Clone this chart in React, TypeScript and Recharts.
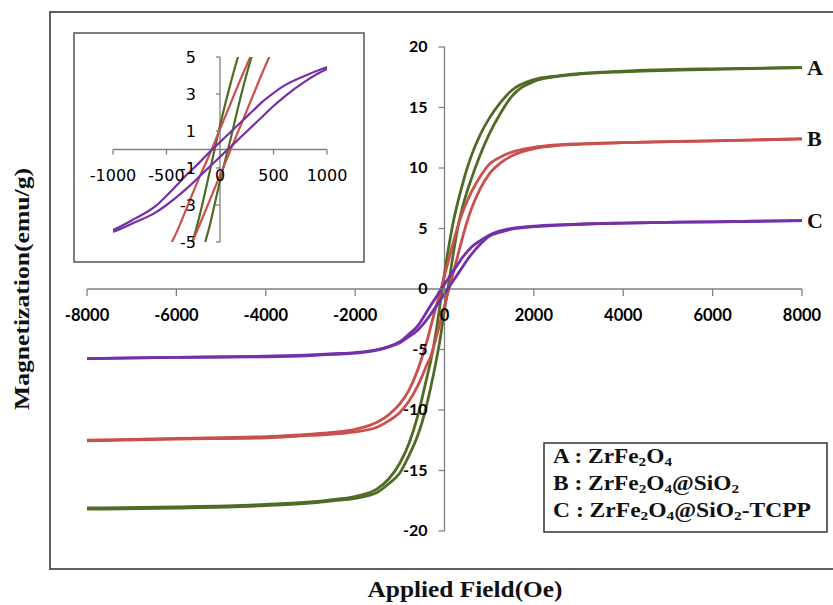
import { LineChart, Line, XAxis, YAxis, ReferenceLine, ReferenceDot } from "recharts";

// applied field (Oe), same grid for every branch
const fields = [
  -8000, -6000, -4000, -3000, -2500, -2000, -1500, -1250, -1000, -800, -600, -500, -400, -300, -200, -100,
  0, 100, 200, 300, 400, 500, 600, 800, 1000, 1250, 1500, 2000, 2500, 3000, 4000, 6000, 8000,
];

// A : ZrFe2O4
const aUpper = [
  -18.1, -18.0, -17.8, -17.6, -17.4, -17.15, -16.5, -15.7, -14.4, -12.8, -10.5, -9.0, -7.4, -5.8, -3.8, -1.3,
  1.3, 3.6, 5.6, 7.2, 8.6, 9.9, 11.0, 12.75, 14.1, 15.4, 16.4, 17.3, 17.6, 17.8, 18.0, 18.2, 18.3,
];
const aLower = [
  -18.2, -18.1, -17.9, -17.7, -17.5, -17.3, -16.8, -16.1, -15.2, -13.8, -12.1, -11.0, -9.6, -8.0, -6.2, -4.2,
  -1.7, 0.6, 3.0, 5.1, 6.7, 8.0, 9.1, 11.1, 12.8, 14.5, 15.9, 17.15, 17.55, 17.75, 17.95, 18.15, 18.3,
];

// B : ZrFe2O4@SiO2
const bUpper = [
  -12.5, -12.35, -12.2, -12.0, -11.85, -11.6, -11.0, -10.4, -9.5, -8.4, -6.7, -5.6, -4.4, -3.0, -1.6, -0.3,
  1.1, 2.5, 3.9, 5.2, 6.3, 7.2, 8.0, 9.3, 10.3, 10.9, 11.3, 11.7, 11.9, 12.0, 12.1, 12.25, 12.4,
];
const bLower = [
  -12.55, -12.4, -12.3, -12.1, -12.0, -11.8, -11.4, -10.9, -10.2, -9.3, -8.0, -7.2, -6.3, -5.5, -4.2, -2.8,
  -1.4, 0.0, 1.4, 2.8, 4.2, 5.5, 6.6, 8.3, 9.5, 10.4, 11.0, 11.6, 11.85, 11.95, 12.1, 12.25, 12.4,
];

// C : ZrFe2O4@SiO2-TCPP
const cUpper = [
  -5.75, -5.65, -5.55, -5.45, -5.35, -5.25, -5.0, -4.75, -4.35, -3.75, -3.05, -2.5, -1.9, -1.3, -0.75, -0.15,
  0.4, 0.95, 1.5, 2.05, 2.6, 3.05, 3.45, 4.0, 4.45, 4.8, 5.0, 5.2, 5.3, 5.35, 5.45, 5.55, 5.65,
];
const cLower = [
  -5.75, -5.65, -5.6, -5.5, -5.4, -5.3, -5.05, -4.8, -4.45, -3.95, -3.4, -3.0, -2.55, -2.05, -1.5, -0.95,
  -0.4, 0.15, 0.7, 1.25, 1.8, 2.35, 2.85, 3.7, 4.35, 4.7, 4.95, 5.15, 5.25, 5.35, 5.45, 5.55, 5.65,
];

const curveTags = ["A", "B", "C"];
const colors = ["#4F6B26", "#C9504C", "#7330A8"];

const mainXTicks = [-8000, -6000, -4000, -2000, 0, 2000, 4000, 6000, 8000];
const mainYTicks = [-20, -15, -10, -5, 0, 5, 10, 15, 20];
const insetXTicks = [-1000, -500, 0, 500, 1000];
const insetYTicks = [-5, -3, -1, 1, 3, 5];

// legend text, odd pieces are subscripts
const legendLines = [
  ["A : ZrFe", "2", "O", "4", ""],
  ["B : ZrFe", "2", "O", "4", "@SiO", "2", ""],
  ["C : ZrFe", "2", "O", "4", "@SiO", "2", "-TCPP"],
];
const legendWidths = [119, 186, 258];

const toPoints = (vals: number[]) => fields.map((h, i) => ({ h, m: vals[i] }));
const branches = [
  [toPoints(aUpper), toPoints(aLower)],
  [toPoints(bUpper), toPoints(bLower)],
  [toPoints(cUpper), toPoints(cLower)],
];
const lastUpper = [aUpper, bUpper, cUpper].map((v) => v[v.length - 1]);

const axisColor = "#7f7f7f";
const serif = "'Liberation Serif', 'Times New Roman', serif";
const tickFont = "Lato, 'DejaVu Sans', sans-serif";
const insetFont = "'DejaVu Sans', Verdana, sans-serif";

function Curves({ width }: { width: number }) {
  return (
    <>
      {branches.map((pair, s) =>
        pair.map((pts, b) => (
          <Line
            key={`l${s}${b}`}
            data={pts}
            dataKey="m"
            type="monotone"
            stroke={colors[s]}
            strokeWidth={width}
            dot={false}
            activeDot={false}
            isAnimationActive={false}
          />
        ))
      )}
    </>
  );
}

export default function App() {
  return (
    <div style={{ position: "absolute", left: 0, top: 0, width: 833, height: 605, background: "#fff", overflow: "hidden" }}>
      <LineChart width={833} height={605} margin={{ top: 47, right: 31, bottom: 74, left: 87 }}>
        <XAxis type="number" dataKey="h" domain={[-8000, 8000]} hide />
        <YAxis type="number" domain={[-20, 20]} hide />
        <ReferenceLine y={0} stroke={axisColor} strokeWidth={1.3} />
        <ReferenceLine x={0} stroke={axisColor} strokeWidth={1.3} />
        {mainXTicks.map((v) => (
          <ReferenceDot
            key={`mx${v}`}
            x={v}
            y={0}
            r={0}
            shape={(p: any) => (
              <g>
                <line x1={p.cx} y1={p.cy} x2={p.cx} y2={p.cy + 7} stroke={axisColor} strokeWidth={1.3} />
                <text x={p.cx} y={p.cy + 32} textAnchor="middle" fontFamily={tickFont} fontWeight="bold" fontSize={16.5} fill="#000">
                  {v}
                </text>
              </g>
            )}
          />
        ))}
        {mainYTicks.map((v) => (
          <ReferenceDot
            key={`my${v}`}
            x={0}
            y={v}
            r={0}
            shape={(p: any) => (
              <g>
                <line x1={p.cx - 6} y1={p.cy} x2={p.cx} y2={p.cy} stroke={axisColor} strokeWidth={1.3} />
                <text x={p.cx - 17} y={p.cy + 5} textAnchor="end" fontFamily={tickFont} fontWeight="bold" fontSize={16} fill="#000">
                  {v}
                </text>
              </g>
            )}
          />
        ))}
        {Curves({ width: 2.8 })}
        {curveTags.map((t, i) => (
          <ReferenceDot
            key={`tag${t}`}
            x={8000}
            y={lastUpper[i]}
            r={0}
            shape={(p: any) => (
              <text x={p.cx + 5} y={p.cy + 7} fontFamily={serif} fontWeight="bold" fontSize={22} fill="#111">
                {t}
              </text>
            )}
          />
        ))}
      </LineChart>

      <div style={{ position: "absolute", left: 74, top: 33, width: 290, height: 229, background: "#fff" }}>
        <LineChart width={290} height={229} margin={{ top: 24, right: 37, bottom: 20, left: 39 }}>
          <XAxis type="number" dataKey="h" domain={[-1000, 1000]} allowDataOverflow hide />
          <YAxis type="number" domain={[-5, 5]} allowDataOverflow hide />
          <ReferenceLine y={0} stroke={axisColor} strokeWidth={1.3} />
          <ReferenceLine x={0} stroke={axisColor} strokeWidth={1.3} />
          {insetXTicks.map((v) => (
            <ReferenceDot
              key={`ix${v}`}
              x={v}
              y={0}
              r={0}
              shape={(p: any) => (
                <g>
                  <line x1={p.cx} y1={p.cy} x2={p.cx} y2={p.cy + 5} stroke={axisColor} strokeWidth={1.3} />
                  <text x={p.cx} y={p.cy + 31} textAnchor="middle" fontFamily={insetFont} fontSize={16} fill="#000">
                    {v}
                  </text>
                </g>
              )}
            />
          ))}
          {insetYTicks.map((v) => (
            <ReferenceDot
              key={`iy${v}`}
              x={0}
              y={v}
              r={0}
              shape={(p: any) => (
                <g>
                  <line x1={p.cx - 4} y1={p.cy} x2={p.cx} y2={p.cy} stroke={axisColor} strokeWidth={1.3} />
                  <text x={p.cx - 24} y={p.cy + 6} textAnchor="end" fontFamily={insetFont} fontSize={16} fill="#000">
                    {v}
                  </text>
                </g>
              )}
            />
          ))}
          {Curves({ width: 2.2 })}
        </LineChart>
      </div>

      <svg width={833} height={605} style={{ position: "absolute", left: 0, top: 0, pointerEvents: "none" }}>
        <rect x={50} y={12} width={800} height={557} fill="none" stroke="#5f5f5f" strokeWidth={2} />
        <rect x={74} y={33} width={290} height={229} fill="none" stroke="#5f5f5f" strokeWidth={1.6} />
        <text
          transform="translate(28.5,289) rotate(-90)"
          textAnchor="middle"
          fontFamily={serif}
          fontWeight="bold"
          fontSize={22}
          textLength={242}
          lengthAdjust="spacingAndGlyphs"
          fill="#111"
        >
          Magnetization(emu/g)
        </text>
        <text x={465} y={597} textAnchor="middle" fontFamily={serif} fontWeight="bold" fontSize={23} textLength={195} lengthAdjust="spacingAndGlyphs" fill="#111">
          Applied Field(Oe)
        </text>
        <rect x={544} y={443} width={283} height={89} fill="#fff" stroke="#333" strokeWidth={1.5} />
        {legendLines.map((parts, i) => (
          <text
            key={`lg${i}`}
            x={553}
            y={463 + i * 27}
            fontFamily={serif}
            fontWeight="bold"
            fontSize={20}
            textLength={legendWidths[i]}
            lengthAdjust="spacingAndGlyphs"
            fill="#111"
          >
            {parts.map((s, j) =>
              j % 2 === 1 ? (
                <tspan key={j} fontSize={13} dy={3}>
                  {s}
                </tspan>
              ) : (
                <tspan key={j} dy={j === 0 ? 0 : -3}>
                  {s}
                </tspan>
              )
            )}
          </text>
        ))}
      </svg>
    </div>
  );
}
